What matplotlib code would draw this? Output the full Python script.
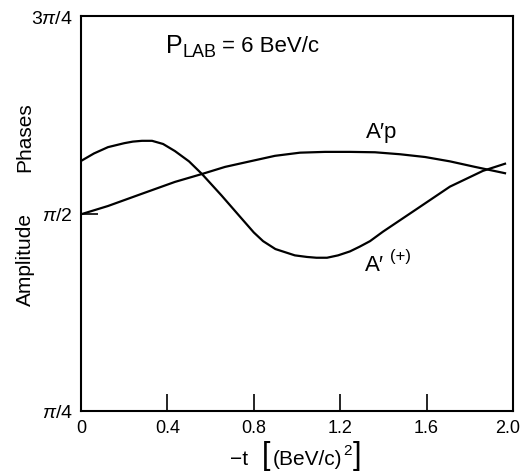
import numpy as np
import matplotlib
matplotlib.use("Agg")
import matplotlib.pyplot as plt
import matplotlib.transforms as mtransforms

plt.rcParams['font.family'] = ['Liberation Sans', 'DejaVu Sans']
plt.rcParams['mathtext.fontset'] = 'custom'
plt.rcParams['mathtext.rm'] = 'Liberation Sans'
plt.rcParams['mathtext.it'] = 'Liberation Sans:italic'
plt.rcParams['mathtext.bf'] = 'Liberation Sans:bold'

# phases in units of pi
t_ap = [0.0, 0.125, 0.282, 0.435, 0.560, 0.667, 0.782, 0.898, 1.014, 1.130, 1.245, 1.361,
        1.477, 1.593, 1.708, 1.824, 1.963]
phase_ap = [0.499, 0.5095, 0.525, 0.540, 0.550, 0.559, 0.566, 0.573, 0.577, 0.578, 0.578, 0.5775,
            0.575, 0.5715, 0.566, 0.559, 0.551]

t_plus = [0.0, 0.06, 0.125, 0.20, 0.24, 0.282, 0.329, 0.38, 0.435, 0.50, 0.560, 0.65, 0.736, 0.80,
          0.843, 0.90, 0.99, 1.046, 1.09, 1.139, 1.19, 1.245, 1.29, 1.338, 1.398, 1.556, 1.708,
          1.861, 1.963]
phase_plus = [0.5665, 0.576, 0.584, 0.589, 0.591, 0.592, 0.592, 0.588, 0.579, 0.566, 0.550, 0.523,
              0.496, 0.476, 0.465, 0.455, 0.447, 0.445, 0.444, 0.444, 0.447, 0.452, 0.458, 0.465,
              0.477, 0.506, 0.534, 0.554, 0.563]

xticks = [0, 0.4, 0.8, 1.2, 1.6, 2.0]
xticklabels = ['0', '0.4', '0.8', '1.2', '1.6', '2.0']
yticks = [0.25, 0.5, 0.75]
yticklabels = [r'$\pi/4$', r'$\pi/2$', r'$3\pi/4$']

W, H = 522, 477
fig = plt.figure(figsize=(W / 100, H / 100), dpi=100)
ax = fig.add_axes([81/W, 1 - 412/H, 432/W, 395/H])


def px(x, y):
    return x / W, 1 - y / H


ax.plot(t_ap, phase_ap, color='black', lw=1.6, solid_joinstyle='round')
ax.plot(t_plus, phase_plus, color='black', lw=1.6, solid_joinstyle='round')

ax.set_xlim(0, 2.0)
ax.set_ylim(0.25, 0.75)
ax.set_xticks(xticks)
ax.set_xticklabels(xticklabels, fontsize=13)
ax.set_yticks(yticks)
ax.set_yticklabels(yticklabels, fontsize=14)
ax.tick_params(direction='in', length=12, width=1.2, pad=6)
for s in ax.spines.values():
    s.set_linewidth(1.5)

# nudge last x label so it stays inside the figure
last = ax.get_xticklabels()[-1]
last.set_transform(last.get_transform() + mtransforms.ScaledTranslation(-5/100, 0, fig.dpi_scale_trans))

# x axis title, built in pieces so the brackets can be tall
fig.text(*px(230, 460), '\u2212t', fontsize=15, va='center')
fig.text(*px(262, 456), '[', fontsize=22, va='center', fontweight='light')
fig.text(*px(273, 460), '(BeV/c)', fontsize=15, va='center')
fig.text(*px(343, 451), '2', fontsize=11, va='center')
fig.text(*px(353, 456), ']', fontsize=22, va='center', fontweight='light')

fig.text(*px(25, 260), 'Amplitude', rotation=90, fontsize=15, ha='center', va='center')
fig.text(*px(25, 137), 'Phases', rotation=90, fontsize=15, ha='center', va='center')

# P_LAB = 6 BeV/c
fig.text(*px(166, 53), 'P', fontsize=18, va='baseline')
fig.text(*px(183, 57), 'LAB', fontsize=13, va='baseline')
fig.text(*px(222, 52), '= 6 BeV/c', fontsize=16, va='baseline')

# curve labels
fig.text(*px(366, 138), 'A\u2032', fontsize=16, va='baseline')
fig.text(*px(384, 138), 'p', fontsize=16, va='baseline')
fig.text(*px(365, 271), 'A\u2032', fontsize=16, va='baseline')
fig.text(*px(390, 261), '(+)', fontsize=12, va='baseline')

fig.savefig('out.png', dpi=100)
